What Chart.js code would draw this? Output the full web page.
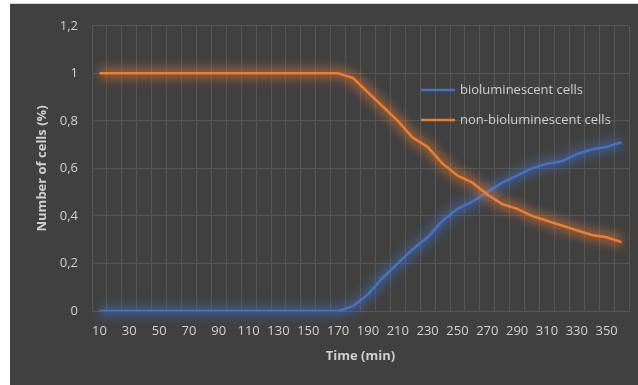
<!DOCTYPE html>
<html>
<head>
<meta charset="utf-8">
<script src="https://cdn.jsdelivr.net/npm/chart.js@4/dist/chart.umd.min.js"></script>
<style>
  html, body { margin: 0; padding: 0; background: #ffffff; }
  #wrap {
    position: absolute; left: 10px; top: 3px;
    width: 628px; height: 382px;
    background: #404040;
    border-top: 1px solid #d4d4d4;
    box-sizing: border-box;
  }
</style>
</head>
<body>
<div id="wrap"><canvas id="chart"></canvas></div>
<script>
// ---- data ----
const times = [10, 20, 30, 40, 50, 60, 70, 80, 90, 100, 110, 120, 130, 140, 150, 160, 170, 180,
  190, 200, 210, 220, 230, 240, 250, 260, 270, 280, 290, 300, 310, 320, 330, 340, 350, 360];

const biolum = [0, 0, 0, 0, 0, 0, 0, 0, 0, 0, 0, 0, 0, 0, 0, 0, 0, 0.02,
  0.07, 0.14, 0.20, 0.26, 0.31, 0.38, 0.43, 0.46, 0.50, 0.54, 0.57, 0.60, 0.62, 0.63, 0.66, 0.68, 0.69, 0.71];

const nonBiolum = [1, 1, 1, 1, 1, 1, 1, 1, 1, 1, 1, 1, 1, 1, 1, 1, 1, 0.98,
  0.92, 0.86, 0.80, 0.73, 0.69, 0.62, 0.57, 0.54, 0.49, 0.45, 0.43, 0.40, 0.38, 0.36, 0.34, 0.32, 0.31, 0.29];

const seriesNames = ["bioluminescent cells", "non-bioluminescent cells"];
const seriesColors = ["#4472C4", "#ED7D31"];

const FONT = "'Open Sans', 'Noto Sans', sans-serif";
const TEXT = "#cfcfcf";
const GRID = "#565656";

// soft glow under each line, like the Excel "glow" effect:
// draw the same line again, wide and blurred, before the real one
const glowPlugin = {
  id: "glow",
  beforeDatasetDraw(chart, args) {
    const line = args.meta.dataset;
    if (!line) return;
    const ctx = chart.ctx;
    const area = chart.chartArea;
    const oldWidth = line.options.borderWidth;
    ctx.save();
    ctx.beginPath();
    ctx.rect(area.left - 12, area.top - 12, area.width + 24, area.height + 24);
    ctx.clip();
    ctx.filter = "blur(5px)";
    ctx.globalAlpha = 0.45;
    line.options.borderWidth = 12;
    line.draw(ctx, area);
    line.options.borderWidth = oldWidth;
    ctx.restore();
  }
};

// legend sits inside the plot, top right
const innerLegend = {
  id: "innerLegend",
  afterDraw(chart) {
    const ctx = chart.ctx;
    ctx.save();
    ctx.font = "13px " + FONT;
    ctx.textBaseline = "middle";
    seriesNames.forEach((name, i) => {
      const y = 86 + i * 30;
      ctx.strokeStyle = seriesColors[i];
      ctx.lineWidth = 2.5;
      ctx.beginPath();
      ctx.moveTo(411, y);
      ctx.lineTo(445, y);
      ctx.stroke();
      ctx.fillStyle = TEXT;
      ctx.fillText(name, 450, y);
    });
    ctx.restore();
  }
};

const ctx = document.getElementById("chart").getContext("2d");
new Chart(ctx, {
  type: "line",
  data: {
    labels: times,
    datasets: [
      { label: seriesNames[0], data: biolum, borderColor: seriesColors[0], borderWidth: 2.5, pointRadius: 0, order: 1 },
      { label: seriesNames[1], data: nonBiolum, borderColor: seriesColors[1], borderWidth: 2.5, pointRadius: 0, order: 0 }
    ]
  },
  options: {
    responsive: true,
    maintainAspectRatio: false,
    animation: false,
    layout: { padding: { left: 0, top: 19, right: 9, bottom: 0 } },
    plugins: {
      legend: { display: false },
      tooltip: { enabled: false }
    },
    scales: {
      x: {
        offset: true,
        grid: { offset: true, color: GRID, drawTicks: false },
        border: { display: false },
        ticks: {
          autoSkip: false,
          maxRotation: 0,
          padding: 12,
          color: TEXT,
          font: { family: FONT, size: 13 },
          callback: (v, i) => (i % 2 === 0 ? times[i] : "")
        },
        title: {
          display: true,
          text: "Time (min)",
          color: TEXT,
          font: { family: FONT, size: 13, weight: "bold" },
          padding: { top: 4, bottom: 21 }
        },
        afterFit: s => { s.height = 74; }
      },
      y: {
        min: 0,
        max: 1.2,
        grid: { color: GRID, drawTicks: false },
        border: { display: false },
        ticks: {
          stepSize: 0.2,
          padding: 14,
          color: TEXT,
          font: { family: FONT, size: 13 },
          callback: v => String(Number(v.toFixed(1))).replace(".", ",")
        },
        title: {
          display: true,
          text: "Number of cells (%)",
          color: TEXT,
          font: { family: FONT, size: 13, weight: "bold" },
          padding: { top: 24, bottom: 0 }
        },
        afterFit: s => { s.width = 82; }
      }
    }
  },
  plugins: [glowPlugin, innerLegend]
});
</script>
</body>
</html>
